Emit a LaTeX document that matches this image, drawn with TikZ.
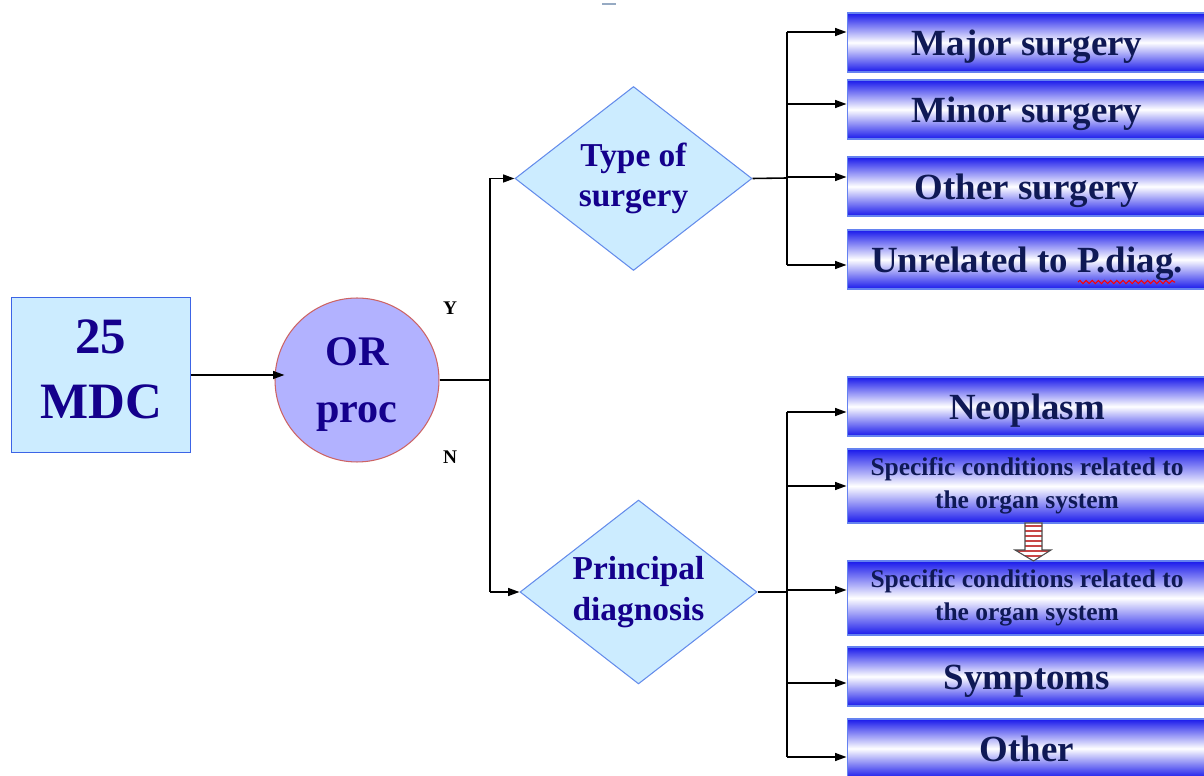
\documentclass[tikz,border=0pt]{standalone}
\usepackage{fontspec}
\setmainfont{Liberation Serif}
\usetikzlibrary{arrows.meta}
\usetikzlibrary{positioning}
\usetikzlibrary{shapes.geometric}
\usetikzlibrary{decorations.pathmorphing}

\definecolor{paleblue}{RGB}{204,236,255}
\definecolor{startedge}{RGB}{60,100,230}
\definecolor{circfill}{RGB}{178,178,255}
\definecolor{circedge}{RGB}{205,100,100}
\definecolor{diaedge}{RGB}{100,140,235}
\definecolor{barblue}{RGB}{25,25,235}
\definecolor{baredge}{RGB}{100,130,240}
\definecolor{shapeink}{RGB}{20,0,140}
\definecolor{barink}{RGB}{15,25,85}
\definecolor{stripered}{RGB}{200,70,70}

\begin{document}
\begin{tikzpicture}[
    x=0.02cm, y=-0.02cm,
    start/.style={rectangle, draw=startedge, line width=0.8pt, fill=paleblue, minimum width=3.58cm, minimum height=3.1cm, align=center, text depth=6.8pt, font=\fontsize{29}{37}\selectfont\bfseries, text=shapeink},
    ornode/.style={circle, draw=circedge, fill=circfill, line width=0.6pt, minimum size=3.28cm, inner sep=0pt, align=center, text depth=-1pt, font=\fontsize{24}{32}\selectfont\bfseries, text=shapeink},
    decision/.style={diamond, aspect=1.3, draw=diaedge, fill=paleblue, line width=0.6pt, inner sep=0pt, minimum width=4.74cm, minimum height=3.68cm, align=center, font=\fontsize{19}{23}\selectfont\bfseries, text=shapeink},
    barbase/.style={rectangle, draw=baredge, line width=0.6pt, top color=barblue, bottom color=barblue, middle color=white, minimum width=7.2cm, inner sep=0pt, align=center, text=barink},
    bar/.style={barbase, minimum height=1.18cm, text height=19pt, text depth=4.6pt, font=\fontsize{21}{25}\selectfont\bfseries},
    smallbar/.style={barbase, minimum height=1.48cm, font=\fontsize{14.5}{18.5}\selectfont\bfseries},
    arrow/.style={-{Triangle[length=6.5pt, width=4.5pt]}, line width=0.9pt},
    link/.style={line width=0.9pt},
    yn/.style={font=\fontsize{11}{13}\selectfont\bfseries}
    ]

    \useasboundingbox (0,0) rectangle (1204,776);
    \clip (0,0) rectangle (1204,776);

    % Nodes
    \node[start] (mdc) at (101,375) {25\\MDC};
    \node[ornode] (orproc) at (357,380) {OR\\proc};
    \node[decision] (typ) at (633.5,178.5) {Type of\\surgery};
    \node[decision] (diag) at (638.5,592) {Principal\\diagnosis};

    \node[yn] (ylab) at (450,308) {Y};
    \node[yn] (nlab) at (450,457) {N};

    \foreach \name/\y/\txt in {maj/42.5/Major surgery, min/109.5/Minor surgery, oth/186.5/Other surgery, unr/259.5/Unrelated to P.diag., neo/406.5/Neoplasm, sym/676.5/Symptoms, rest/748.5/Other}
        \node[bar] (\name) at (1027,\y) {\txt};

    \node[smallbar] (spa) at (1027,486) {Specific conditions related to\\the organ system};
    \node[smallbar] (spb) at (1027,598) {Specific conditions related to\\the organ system};

    % spelling mark under P.diag.
    \draw[red, line width=0.6pt, decorate, decoration={snake, segment length=3.5pt, amplitude=0.9pt}] (1078,282) -- (1175,282);

    % stray mark at the top
    \draw[line width=1.2pt, color={rgb,255:red,150;green,170;blue,195}] (602,4) -- (616,4);

    % Split points
    \coordinate (split) at (490,377);
    \coordinate (tsplit) at (787,178);
    \coordinate (bsplit) at (787,592);

    \foreach \name/\s in {maj/0.21, min/0.11, oth/0.19, unr/-0.11, neo/-0.11, spa/0, spb/0.16, sym/-0.13, rest/-0.17}
        \coordinate (\name-in) at ([yshift=\s cm]\name.west);

    % Connectors
    \draw[arrow, shorten >=-0.2cm] (mdc.east) -- (mdc.east -| orproc.west);
    \draw[link] (orproc.east) -- (orproc.east -| split);
    \draw[link] (split |- typ.west) -- (split |- diag.west);
    \draw[arrow] (split |- typ.west) -- (typ.west);
    \draw[arrow] (split |- diag.west) -- (diag.west);

    \draw[link] (typ.east) -- (tsplit);
    \draw[link] (tsplit |- maj-in) -- (tsplit |- unr-in);
    \foreach \name in {maj, min, oth, unr}
        \draw[arrow] (tsplit |- \name-in) -- (\name-in);

    \draw[link] (diag.east) -- (bsplit);
    \draw[link] (bsplit |- neo-in) -- (bsplit |- rest-in);
    \foreach \name in {neo, spa, spb, sym, rest}
        \draw[arrow] (bsplit |- \name-in) -- (\name-in);

    % Striped arrow between the two condition boxes
    \begin{scope}
        \clip (1025,523) -- (1042,523) -- (1042,550) -- (1051,550) -- (1033.5,561) -- (1015,550) -- (1025,550) -- cycle;
        \fill[white] (1010,520) rectangle (1056,565);
        \foreach \s in {525,530,...,555}
            \fill[stripered] (1010,\s) rectangle (1056,\s+2.5);
    \end{scope}
    \draw[line width=0.6pt, draw=black!70] (1025,523) -- (1042,523) -- (1042,550) -- (1051,550) -- (1033.5,561) -- (1015,550) -- (1025,550) -- cycle;

\end{tikzpicture}
\end{document}
